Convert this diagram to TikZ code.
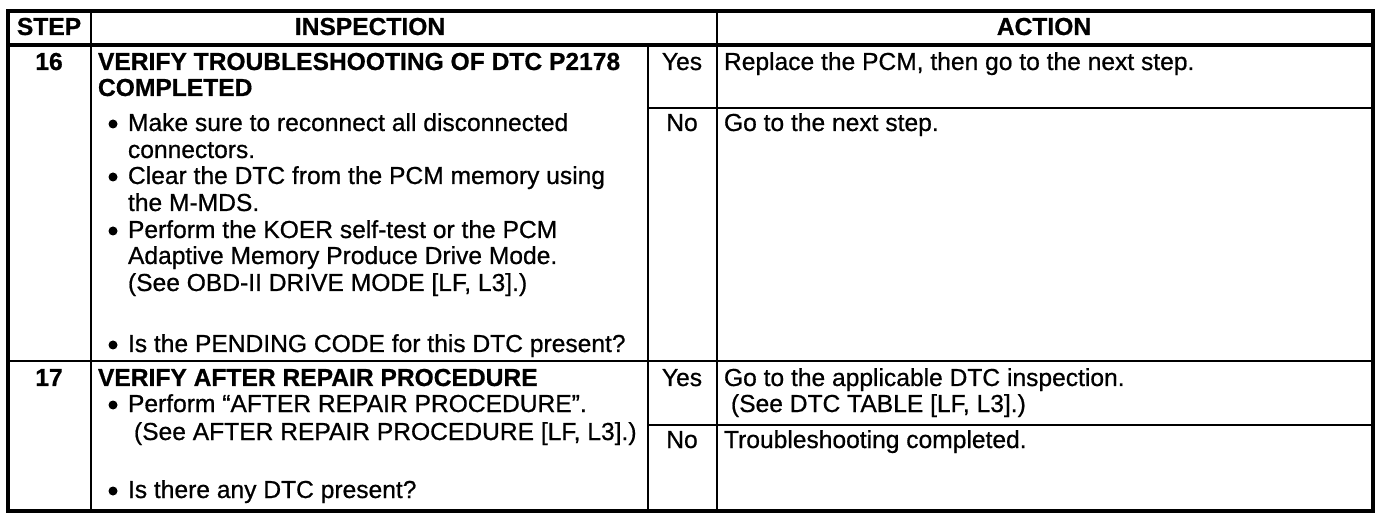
\documentclass[tikz,border=0pt]{standalone}
\usepackage{fontspec}
\setmainfont{Liberation Sans}[FakeBold=0.7]
\begin{document}
\begin{tikzpicture}[x=1pt,y=-1pt,
  every node/.style={inner sep=0pt,outer sep=0pt,font=\fontsize{24.6}{25}\selectfont},
  txt/.style={anchor=base west},
  ctr/.style={anchor=base},
  hd/.style={font=\fontsize{24.6}{25}\selectfont\bfseries},
  outerline/.style={line width=3.3pt},
  innerline/.style={line width=2.5pt},
  bul/.style={circle,fill=black,minimum size=9pt}]
\useasboundingbox (0,0) rectangle (1392,518);
% grid
\draw[outerline] (8,11) rectangle (1373,511);
\draw[outerline] (8,45) -- (1373,45);
\draw[innerline] (8,361) -- (1373,361);
\draw[innerline] (91,11) -- (91,511);
\draw[innerline] (717,11) -- (717,511);
\draw[innerline] (648,45) -- (648,511);
\draw[innerline] (648,108) -- (1373,108);
\draw[innerline] (648,425) -- (1373,425);
% header
\node[ctr,hd] (hstep) at (49,35) {STEP};
\node[ctr,hd] (hinsp) at (370,35) {INSPECTION};
\node[ctr,hd] (hact) at (1044,35) {ACTION};
% step 16
\node[ctr,hd] (s16) at (49,70) {16};
\node[txt,hd] (t16a) at (98,70) {VERIFY TROUBLESHOOTING OF DTC P2178};
\node[txt,hd] (t16b) at (98,96) {COMPLETED};
\node[bul] (b161) at (113,124) {};
\node[txt] (l161) at (128,131) {Make sure to reconnect all disconnected};
\node[txt] (l162) at (128,158) {connectors.};
\node[bul] (b162) at (113,177) {};
\node[txt] (l163) at (128,184) {Clear the DTC from the PCM memory using};
\node[txt] (l164) at (128,211) {the M-MDS.};
\node[bul] (b163) at (113,231) {};
\node[txt] (l165) at (128,238) {Perform the KOER self-test or the PCM};
\node[txt] (l166) at (128,264) {Adaptive Memory Produce Drive Mode.};
\node[txt] (l167) at (128,291) {(See OBD-II DRIVE MODE [LF, L3].)};
\node[bul] (b164) at (113,345) {};
\node[txt] (l168) at (128,352) {Is the PENDING CODE for this DTC present?};
\node[ctr] (y16) at (682,70) {Yes};
\node[txt] (a16y) at (724,70) {Replace the PCM, then go to the next step.};
\node[ctr] (n16) at (682,131) {No};
\node[txt] (a16n) at (724,131) {Go to the next step.};
% step 17
\node[ctr,hd] (s17) at (49,386) {17};
\node[txt,hd] (t17) at (98,386) {VERIFY AFTER REPAIR PROCEDURE};
\node[bul] (b171) at (113,405) {};
\node[txt] (l171) at (128,412) {Perform “AFTER REPAIR PROCEDURE”.};
\node[txt] (l172) at (134,440) {(See AFTER REPAIR PROCEDURE [LF, L3].)};
\node[bul] (b172) at (113,491) {};
\node[txt] (l173) at (128,498) {Is there any DTC present?};
\node[ctr] (y17) at (682,386) {Yes};
\node[txt] (a17y) at (724,386) {Go to the applicable DTC inspection.};
\node[txt] (a17y2) at (731,412) {(See DTC TABLE [LF, L3].)};
\node[ctr] (n17) at (682,448) {No};
\node[txt] (a17n) at (724,448) {Troubleshooting completed.};
\end{tikzpicture}
\end{document}
